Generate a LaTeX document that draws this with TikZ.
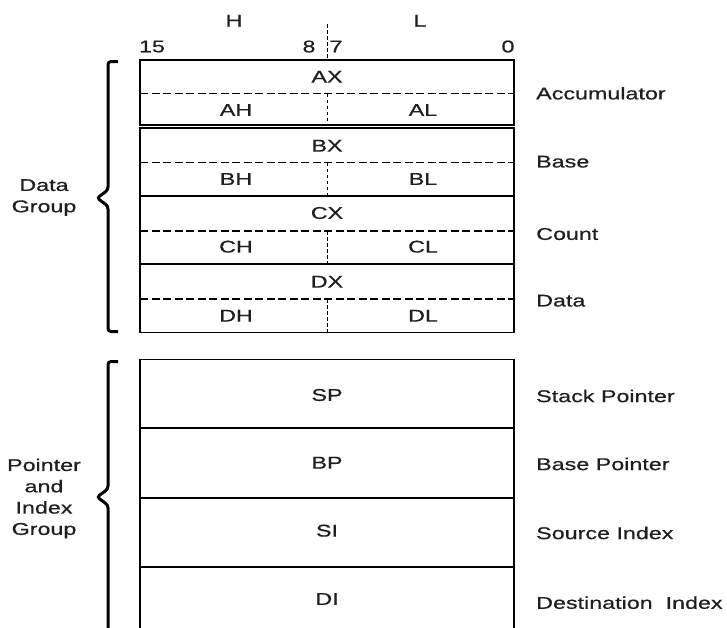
\documentclass[tikz,border=0pt]{standalone}
\usepackage{fontspec}
\setmainfont{Liberation Sans}[FakeStretch=1.37,FakeBold=0.6]
\begin{document}
\begin{tikzpicture}[x=1pt,y=-1pt,
  txt/.style={font=\fontsize{17}{21.3}\selectfont, inner sep=0pt, text=black!88},
  lbl/.style={txt, anchor=west},
  grp/.style={txt, align=center},
  frame/.style={line width=1.6pt},
  half/.style={line width=1.4pt, dash pattern=on 8pt off 3.5pt},
  split/.style={line width=0.9pt, dash pattern=on 3.5pt off 2.5pt},
  brace/.style={line width=3pt, rounded corners=3pt},
]
\useasboundingbox (0,0) rectangle (727,627);
\clip (0,0) rectangle (727,627);

% bit-number header
\node[txt] (hi)   at (234,20.7) {H};
\node[txt] (lo)   at (420,20.7) {L};
\node[txt] (b15)  at (152,46.5) {15};
\node[txt] (b8)   at (309,46.5) {8};
\node[txt] (b7)   at (336,46.5) {7};
\node[txt] (b0)   at (508,46.5) {0};
\coordinate (hdrtop) at (327,24);
\coordinate (hdrbot) at (327,58);
\draw[split] (hdrtop) -- (hdrbot);

% data registers: full word on top, byte halves below
\foreach \top/\bot/\mid [count=\i] in
  {60/125/93.5, 128/196/162.7, 196/264/231, 264/332.5/299}{
  \draw[frame] (140,\top) rectangle (514,\bot);
  \coordinate (hw\i) at (140,\mid);
  \coordinate (he\i) at (514,\mid);
  \coordinate (sp\i) at (327,\mid);
  \coordinate (sb\i) at (327,\bot);
  \draw[half] (hw\i) -- (he\i);
  \draw[split] (sp\i) -- (sb\i);
}
\node[txt] (AX) at (327,76.7)  {AX};
\node[txt] (AH) at (236,110)   {AH};
\node[txt] (AL) at (423,110)   {AL};
\node[txt] (BX) at (327,145.7) {BX};
\node[txt] (BH) at (236,179)   {BH};
\node[txt] (BL) at (423,179)   {BL};
\node[txt] (CX) at (327,213)   {CX};
\node[txt] (CH) at (236,246.7) {CH};
\node[txt] (CL) at (423,246.7) {CL};
\node[txt] (DX) at (327,281.7) {DX};
\node[txt] (DH) at (236,315.7) {DH};
\node[txt] (DL) at (423,315.7) {DL};

\node[lbl] (acc)  at (536,93.3)  {Accumulator};
\node[lbl] (base) at (536,161.7) {Base};
\node[lbl] (cnt)  at (536,234)   {Count};
\node[lbl] (dat)  at (536,300.7) {Data};

% pointer and index registers
\draw[frame] (140,359.5) rectangle (514,640);
\draw[frame] (140,428) -- (514,428);
\draw[line width=1.3pt] (140,498) -- (514,498);
\draw[frame] (140,567) -- (514,567);
\node[txt] (SP) at (327,395)   {SP};
\node[txt] (BP) at (327,462.7) {BP};
\node[txt] (SI) at (327,530.7) {SI};
\node[txt] (DI) at (327,599)   {DI};

\node[lbl] (stk) at (536,396)   {Stack Pointer};
\node[lbl] (bpt) at (536,464)   {Base Pointer};
\node[lbl] (src) at (536,533)   {Source Index};
\node[lbl] (dst) at (536,602.7) {Destination\ \ Index};

% group braces and captions
\draw[brace] (118,61.5) -- (108,61.5) -- (108,190) -- (97,198) -- (108,206)
  -- (108,331.5) -- (118,331.5);
\node[grp] (dgrp) at (44,197.5) {Data\\Group};

\draw[brace] (118,361.5) -- (108,361.5) -- (108,489) -- (97,497) -- (108,505)
  -- (108,645);
\node[grp] (pgrp) at (44,498.5) {Pointer\\and\\Index\\Group};
\end{tikzpicture}
\end{document}
